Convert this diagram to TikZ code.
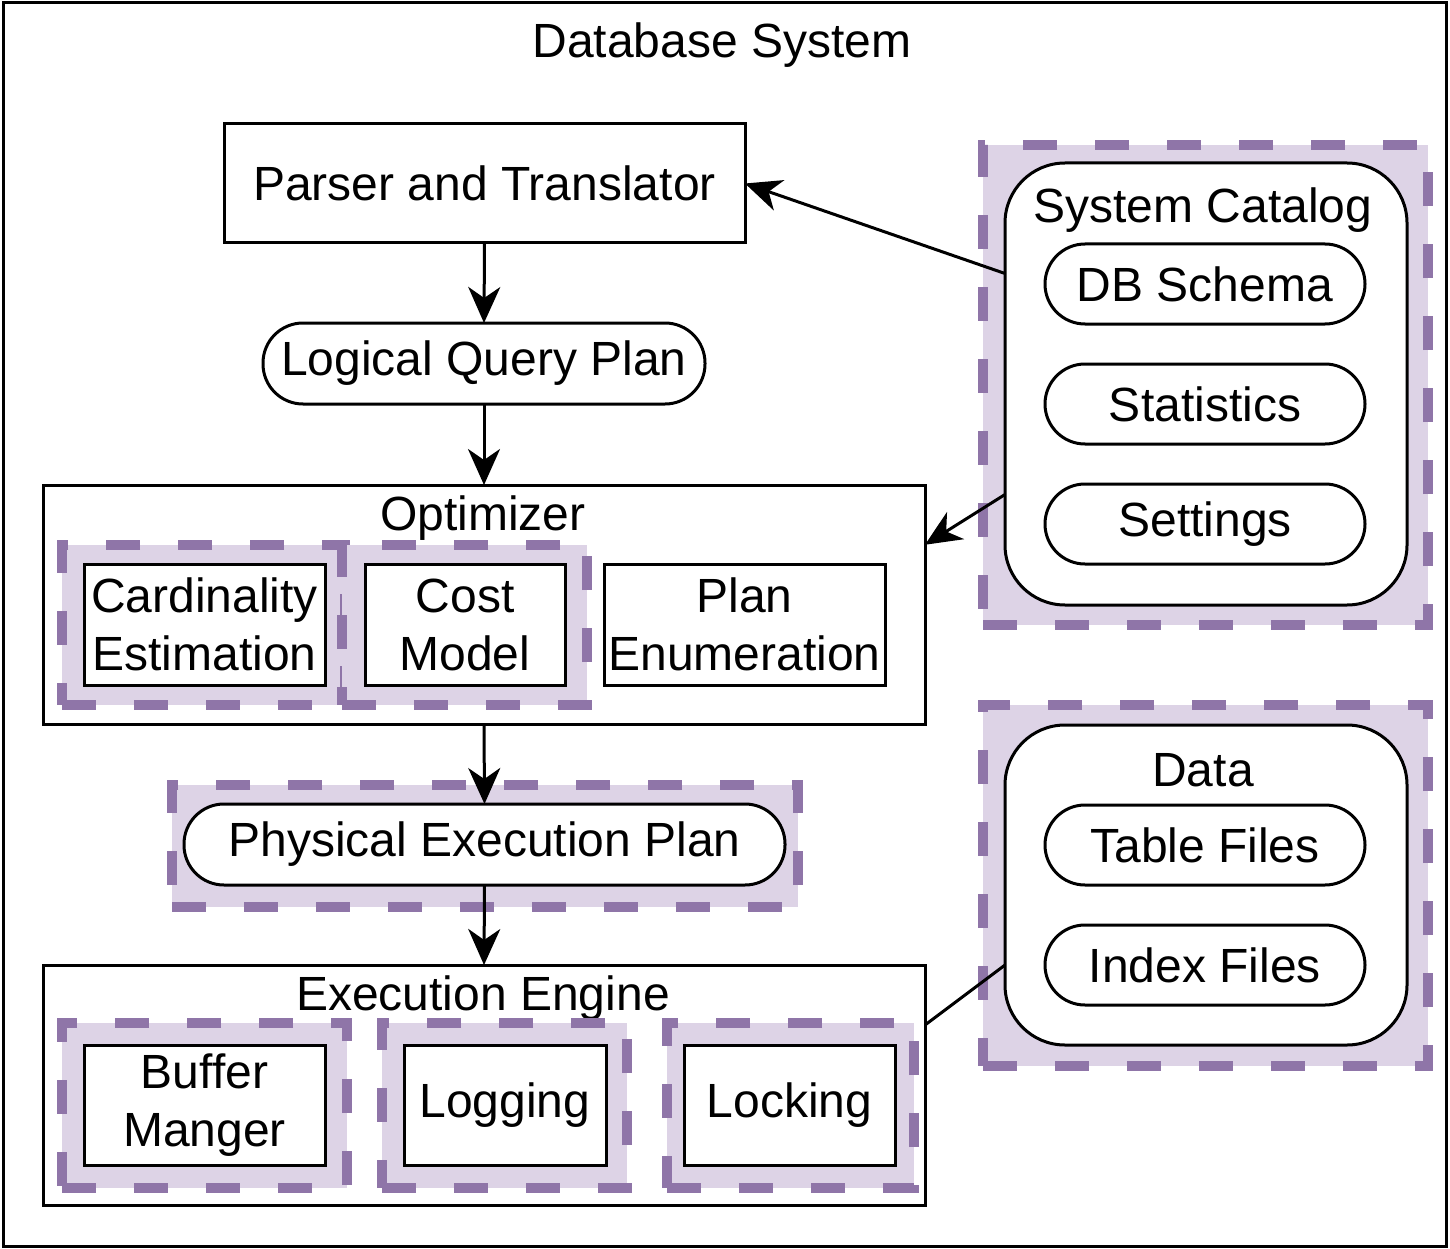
\documentclass[tikz,border=0pt]{standalone}
\usepackage{fontspec}
\setmainfont{Liberation Sans}
\usetikzlibrary{arrows.meta,calc}
\definecolor{pstroke}{RGB}{143,117,168}
\definecolor{pfill}{RGB}{221,211,230}
\begin{document}
\begin{tikzpicture}[x=1pt,y=-1pt,
  font=\fontsize{48}{58}\selectfont,
  frame/.style={draw=black, line width=3pt, fill=white, inner sep=0pt, outer sep=0pt, align=center},
  pill/.style={frame, rounded corners=40pt},
  rbox/.style={frame, rounded corners=60pt},
  dbox/.style={draw=pstroke, fill=pfill, line width=9.5pt, dash pattern=on 34pt off 38pt, inner sep=0pt, outer sep=0pt},
  txt/.style={inner sep=0pt, align=center},
  arr/.style={line width=3pt, -{Stealth[length=36pt,width=32pt,inset=11pt]}},
  plain/.style={line width=3pt}]
\useasboundingbox (0,0) rectangle (1450,1249);
% outer frame
\node[frame, minimum width=1443pt, minimum height=1243pt] (outer) at (724.5,624.5) {};
\node[txt] (title) at (722,45) {Database System};
% parser and plans
\node[frame, minimum width=521pt, minimum height=119pt] (parser) at (484.5,183.5) {Parser and Translator};
\node[pill, minimum width=442pt, minimum height=81pt] (lqp) at (484,363.5) {Logical Query Plan};
% optimizer
\node[frame, minimum width=882pt, minimum height=239pt] (opt) at (484,604.5) {};
\node[txt] (optlbl) at (483,518) {Optimizer};
\node[dbox, minimum width=283pt, minimum height=160pt] (cardf) at (203.5,625) {};
\node[dbox, minimum width=245pt, minimum height=160pt] (costf) at (464.5,625) {};
\node[frame, minimum width=241pt, minimum height=121pt] (card) at (204.5,624.5) {Cardinality\\Estimation};
\node[frame, minimum width=200pt, minimum height=121pt] (cost) at (465,624.5) {Cost\\Model};
\node[frame, minimum width=281pt, minimum height=121pt] (plan) at (744.5,624.5) {Plan\\Enumeration};
% physical plan
\node[dbox, minimum width=626pt, minimum height=122pt] (physf) at (485,846) {};
\node[pill, minimum width=601pt, minimum height=81pt] (phys) at (484.5,844.5) {Physical Execution Plan};
% execution engine
\node[frame, minimum width=882pt, minimum height=240pt] (exec) at (484,1085) {};
\node[txt] (execlbl) at (483,998) {Execution Engine};
\node[dbox, minimum width=285pt, minimum height=165pt] (buff) at (204.5,1105.5) {};
\node[dbox, minimum width=245pt, minimum height=165pt] (logf) at (504.5,1105.5) {};
\node[dbox, minimum width=247pt, minimum height=165pt] (lockf) at (790.5,1105.5) {};
\node[frame, minimum width=241pt, minimum height=120pt] (buf) at (204.5,1105) {Buffer\\Manger};
\node[frame, minimum width=202pt, minimum height=120pt] (logg) at (505,1105) {Logging};
\node[frame, minimum width=211pt, minimum height=120pt] (lock) at (789.5,1105) {Locking};
% system catalog
\node[dbox, minimum width=445pt, minimum height=480pt] (catf) at (1205.5,385) {};
\node[rbox, minimum width=402pt, minimum height=442pt] (cat) at (1206,384) {};
\node[txt] (catlbl) at (1203,210) {System Catalog};
\node[pill, minimum width=320pt, minimum height=80pt] (schema) at (1205,284) {DB Schema};
\node[pill, minimum width=320pt, minimum height=80pt] (stats) at (1205,404) {Statistics};
\node[pill, minimum width=320pt, minimum height=80pt] (sett) at (1205,524) {Settings};
% data
\node[dbox, minimum width=445pt, minimum height=361pt] (dataf) at (1205.5,885.5) {};
\node[rbox, minimum width=402pt, minimum height=320pt] (data) at (1206,885) {};
\node[txt] (datalbl) at (1203,770) {Data};
\node[pill, minimum width=320pt, minimum height=80pt] (table) at (1205,845) {Table Files};
\node[pill, minimum width=320pt, minimum height=80pt] (index) at (1205,965) {Index Files};
% connectors
\draw[arr] (parser.south) -- (lqp.north);
\draw[arr] (lqp.south) -- (opt.north);
\draw[arr] (opt.south) -- (phys.north);
\draw[arr] (phys.south) -- (exec.north);
\draw[arr] ($(cat.north west)!0.25!(cat.south west)$) -- (parser.east);
\draw[arr] ($(cat.north west)!0.75!(cat.south west)$) -- ($(opt.north east)!0.25!(opt.south east)$);
\draw[plain] ($(data.north west)!0.75!(data.south west)$) -- ($(exec.north east)!0.25!(exec.south east)$);
\end{tikzpicture}
\end{document}
